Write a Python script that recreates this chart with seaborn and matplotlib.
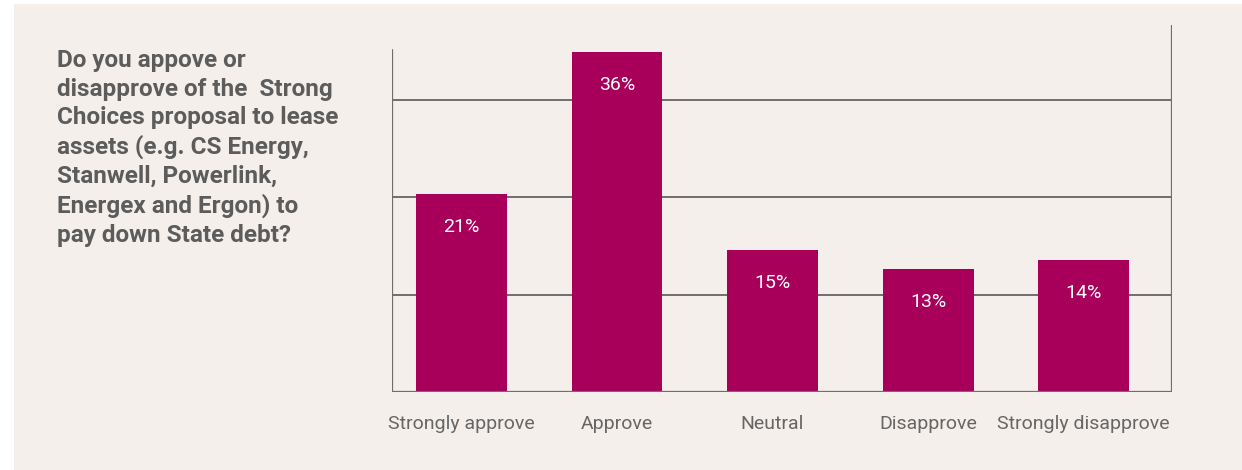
import matplotlib
matplotlib.use("Agg")
import matplotlib.pyplot as plt
import seaborn as sns
import pandas as pd

categories = ["Strongly approve", "Approve", "Neutral", "Disapprove", "Strongly disapprove"]
values = [21, 36, 15, 13, 14]
gridlines = [10.3, 20.6, 30.9]
question = ("Do you appove or\ndisapprove of the  Strong\nChoices proposal to lease\n"
            "assets (e.g. CS Energy,\nStanwell, Powerlink,\nEnergex and Ergon) to\npay down State debt?")

BG = "#F4EFEB"
BAR = "#A8005A"
LINE = "#6E6E6E"
TEXT = "#666666"

sns.set_theme(style="white")
plt.rcParams["font.family"] = ["Roboto", "DejaVu Sans"]

df = pd.DataFrame({"category": categories, "value": values})

W, H = 1242, 470
fig = plt.figure(figsize=(W / 100, H / 100), dpi=100)
fig.patch.set_facecolor(BG)
# thin white margins along the top and left edges
fig.patches.append(plt.Rectangle((0, 0), 14 / W, 1, transform=fig.transFigure,
                                 facecolor="white", edgecolor="none", zorder=-10))
fig.patches.append(plt.Rectangle((0, 1 - 4 / H), 1, 4 / H, transform=fig.transFigure,
                                 facecolor="white", edgecolor="none", zorder=-10))

left, right, top, bottom = 392, 1172, 25, 392
ax = fig.add_axes([left / W, 1 - bottom / H, (right - left) / W, (bottom - top) / H])
ax.set_facecolor("none")

sns.barplot(data=df, x="category", y="value", color=BAR, width=0.585,
            saturation=1, linewidth=0, ax=ax, zorder=3)

ax.set_xlim(-0.447, 4.569)
ymax = (bottom - top) / 9.45
ax.set_ylim(0, ymax)

for s in ax.spines.values():
    s.set_visible(False)
for g in gridlines:
    ax.axhline(g, color=LINE, lw=1.4, zorder=1)
ax.axhline(0, color=LINE, lw=1.6, zorder=4)
# left and right frame lines of different heights
ax.axvline(-0.447, ymin=0, ymax=(bottom - 50) / (bottom - top), color=LINE, lw=1.6, zorder=4)
ax.axvline(4.569, ymin=0, ymax=1, color=LINE, lw=1.6, zorder=4)

for i, v in enumerate(values):
    ax.annotate(f"{v}%", xy=(i, v), xytext=(0, -33 * 0.72), textcoords="offset points",
                ha="center", va="center", color="white", fontsize=14, zorder=5)

ax.set_xlabel("")
ax.set_ylabel("")
ax.set_yticks([])
ax.tick_params(axis="x", length=0, pad=23 * 0.72)
for lab in ax.get_xticklabels():
    lab.set_color(TEXT)
    lab.set_fontsize(14)

fig.text(57 / W, 1 - 49 / H, question, ha="left", va="top", fontsize=17.5,
         fontweight="bold", color="#5C5C5C", linespacing=1.31)

fig.savefig("out.png", dpi=100, facecolor=fig.get_facecolor())
